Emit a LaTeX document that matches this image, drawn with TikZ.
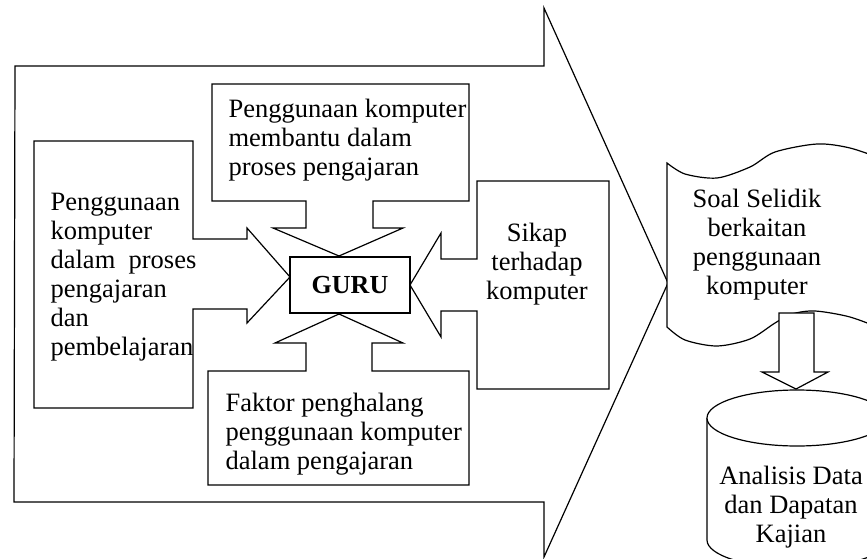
\documentclass[tikz,border=0pt]{standalone}
\usepackage{fontspec}
\setmainfont{Liberation Serif}

\begin{document}
\begin{tikzpicture}[x=1pt,y=-1pt,line width=1.2pt,
    txt/.style={inner sep=0pt,font=\fontsize{26.5}{29}\selectfont},
    outline/.style={draw,line join=miter,fill=white}]
    \clip (0,0) rectangle (867,559);
    % big arrow
    \draw[outline] (15,66) -- (544,66) -- (544,8) -- (668,283) -- (544,557)
        -- (544,502) -- (14,502) -- cycle;
    % callouts round the teacher
    \draw[outline] (34,141) -- (193,141) -- (193,239) -- (247,239) -- (247,228)
        -- (290,277) -- (247,323) -- (247,309) -- (193,309) -- (193,408)
        -- (34,408) -- cycle;
    \draw[outline] (212,84) -- (469,84) -- (469,201) -- (373,201) -- (373,228)
        -- (403,228) -- (339,256) -- (273,228) -- (306,228) -- (306,201)
        -- (212,201) -- cycle;
    \draw[outline] (477,181) -- (609,181) -- (609,389) -- (477,389) -- (477,311)
        -- (441,311) -- (441,337) -- (410,285) -- (441,233) -- (441,259)
        -- (477,259) -- cycle;
    \draw[outline] (208,371) -- (306,371) -- (306,343) -- (275,343) -- (339,314)
        -- (403,343) -- (372,343) -- (372,371) -- (469,371) -- (469,485)
        -- (208,485) -- cycle;
    \node[draw,minimum width=120pt,minimum height=56pt,
        font=\fontsize{26}{29}\selectfont\bfseries] at (350,285) (guru) {GURU};
    \node[txt,align=left,anchor=west] at (50,277) (penggunaan)
        {Penggunaan\\komputer\\dalam~~proses\\pengajaran\\dan\\pembelajaran};
    \node[txt,align=left,anchor=west] at (228,140) (membantu)
        {Penggunaan komputer\\membantu dalam\\proses pengajaran};
    \node[txt,align=center] at (537,264) (sikap) {Sikap\\terhadap\\komputer};
    \node[txt,align=left,anchor=west] at (225,434) (faktor)
        {Faktor penghalang\\penggunaan komputer\\dalam pengajaran};
    % document
    \draw[outline] plot[smooth] coordinates {(667,163) (685,174) (717,178) (750,167)
        (775,152) (817,144) (850,148) (885,160)}
        -- (885,330) -- plot[smooth] coordinates {(885,330) (850,317) (815,311)
        (792,314) (775,323) (750,339) (717,346) (685,340) (667,327)} -- cycle;
    \node[txt,align=center] at (757,245) (soal)
        {Soal Selidik\\berkaitan\\penggunaan\\komputer};
    % cylinder
    \draw[outline] (707,418) -- (707,540)
        arc[start angle=180,end angle=360,x radius=90pt,y radius=28pt] -- (887,418);
    \draw[outline] (797,418) ellipse [x radius=90pt,y radius=28pt];
    \node[txt,align=center] at (791,507) (analisis)
        {Analisis Data\\dan Dapatan\\Kajian};
    % block arrow
    \draw[outline] (779,313) -- (814,313) -- (814,372) -- (828,372) -- (796,389)
        -- (762,372) -- (779,372) -- cycle;
\end{tikzpicture}
\end{document}
